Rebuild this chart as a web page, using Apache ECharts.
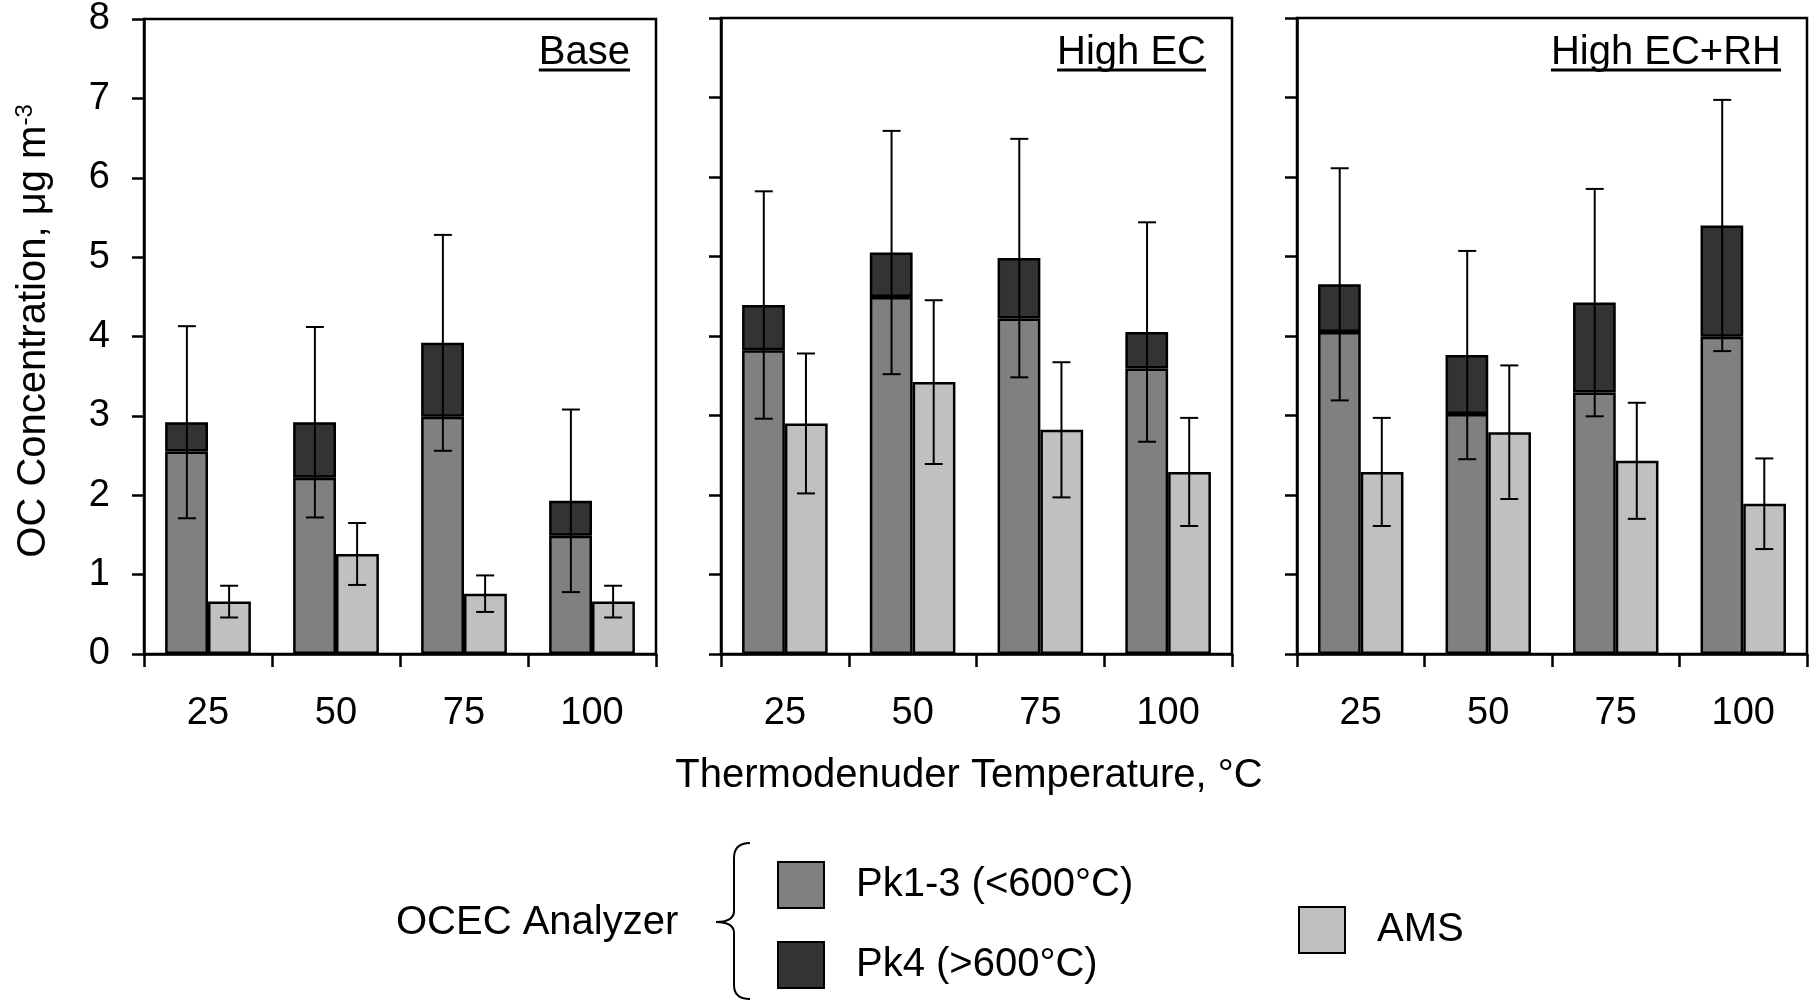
<!DOCTYPE html>
<html>
<head>
<meta charset="utf-8">
<script src="https://cdn.jsdelivr.net/npm/echarts@6/dist/echarts.min.js"></script>
<style>
html,body{margin:0;padding:0;background:#fff;}
#chart{width:1814px;height:1001px;}
</style>
</head>
<body>
<div id="chart"></div>
<script>
// ---------- data ----------
const categories = ['25', '50', '75', '100'];
const panelTitles = ['Base', 'High EC', 'High EC+RH'];
const xAxisTitle = 'Thermodenuder Temperature, °C';
const legendNames = ['Pk1-3 (<600°C)', 'Pk4 (>600°C)', 'AMS'];

// Base
const basePk13   = [2.55, 2.22, 2.99, 1.49];
const basePk4    = [0.37, 0.70, 0.93, 0.44];
const baseOcErr  = [1.21, 1.20, 1.36, 1.15];
const baseAms    = [0.66, 1.26, 0.76, 0.66];
const baseAmsErr = [0.20, 0.39, 0.23, 0.20];

// High EC
const highEcPk13   = [3.82, 4.49, 4.22, 3.59];
const highEcPk4    = [0.57, 0.56, 0.76, 0.46];
const highEcOcErr  = [1.43, 1.53, 1.50, 1.38];
const highEcAms    = [2.90, 3.42, 2.82, 2.29];
const highEcAmsErr = [0.88, 1.03, 0.85, 0.68];

// High EC+RH
const highEcRhPk13   = [4.05, 3.02, 3.29, 3.99];
const highEcRhPk4    = [0.60, 0.74, 1.13, 1.40];
const highEcRhOcErr  = [1.46, 1.31, 1.43, 1.58];
const highEcRhAms    = [2.29, 2.79, 2.43, 1.89];
const highEcRhAmsErr = [0.68, 0.84, 0.73, 0.57];

// ---------- layout / style ----------
const FONT = "'Liberation Sans', Arial, Helvetica, sans-serif";
const COL_PK13 = '#808080', COL_PK4 = '#333333', COL_AMS = '#c0c0c0';
const panels = [
  {pk13: basePk13, pk4: basePk4, ocErr: baseOcErr, ams: baseAms, amsErr: baseAmsErr},
  {pk13: highEcPk13, pk4: highEcPk4, ocErr: highEcOcErr, ams: highEcAms, amsErr: highEcAmsErr},
  {pk13: highEcRhPk13, pk4: highEcRhPk4, ocErr: highEcRhOcErr, ams: highEcRhAms, amsErr: highEcRhAmsErr}
];
const gridLefts = [144, 721, 1297];
const gridWidths = [512, 511, 510];
const gridTop = 18, gridHeight = 636;

const measureCtx = document.createElement('canvas').getContext('2d');
function textWidth(t, size) {
  measureCtx.font = size + 'px "Liberation Sans", Arial, sans-serif';
  return measureCtx.measureText(t).width;
}

function errRenderer(offsetFrac) {
  return function (params, api) {
    const i = api.value(0), c = api.value(1), e = api.value(2);
    const top = api.coord([i, c + e]);
    const bot = api.coord([i, c - e]);
    const band = api.size([1, 0])[0];
    const x = top[0] + offsetFrac * band;
    const hw = 9;
    const st = {stroke: '#000', lineWidth: 2};
    return {
      type: 'group',
      children: [
        {type: 'line', shape: {x1: x, y1: top[1], x2: x, y2: bot[1]}, style: st},
        {type: 'line', shape: {x1: x - hw, y1: top[1], x2: x + hw, y2: top[1]}, style: st},
        {type: 'line', shape: {x1: x - hw, y1: bot[1], x2: x + hw, y2: bot[1]}, style: st}
      ]
    };
  };
}

const grids = [], xAxes = [], yAxes = [], series = [], graphics = [];
panels.forEach((p, k) => {
  grids.push({
    left: gridLefts[k], top: gridTop, width: gridWidths[k], height: gridHeight,
    show: true, borderColor: '#000', borderWidth: 2.5, backgroundColor: 'transparent',
    containLabel: false
  });
  xAxes.push({
    type: 'category', gridIndex: k, data: categories,
    axisLine: {lineStyle: {color: '#000', width: 2.5}},
    axisTick: {show: true, length: 13, alignWithLabel: false, lineStyle: {color: '#000', width: 2.5}},
    axisLabel: {fontSize: 38, fontFamily: FONT, color: '#000', margin: 41},
    splitLine: {show: false}
  });
  yAxes.push({
    type: 'value', gridIndex: k, min: 0, max: 8, interval: 1,
    axisLine: {show: true, lineStyle: {color: '#000', width: 2.5}},
    axisTick: {show: true, length: 12, lineStyle: {color: '#000', width: 2.5}},
    axisLabel: {show: k === 0, fontSize: 38, fontFamily: FONT, color: '#000', margin: 34},
    splitLine: {show: false}
  });
  const barCommon = {
    type: 'bar', xAxisIndex: k, yAxisIndex: k, barCategoryGap: '33%', barGap: '0%'
  };
  series.push(Object.assign({}, barCommon, {
    name: legendNames[0], stack: 'oc' + k, data: p.pk13,
    itemStyle: {color: COL_PK13, borderColor: '#000', borderWidth: 2.5}
  }));
  series.push(Object.assign({}, barCommon, {
    name: legendNames[1], stack: 'oc' + k, data: p.pk4,
    itemStyle: {color: COL_PK4, borderColor: '#000', borderWidth: 2.5}
  }));
  series.push(Object.assign({}, barCommon, {
    name: legendNames[2], data: p.ams,
    itemStyle: {color: COL_AMS, borderColor: '#000', borderWidth: 2.5}
  }));
  series.push({
    type: 'custom', xAxisIndex: k, yAxisIndex: k, z: 5,
    renderItem: errRenderer(-0.165),
    encode: {x: 0, y: 1},
    data: categories.map((c, i) => [i, p.pk13[i] + p.pk4[i], p.ocErr[i]])
  });
  series.push({
    type: 'custom', xAxisIndex: k, yAxisIndex: k, z: 5,
    renderItem: errRenderer(0.165),
    encode: {x: 0, y: 1},
    data: categories.map((c, i) => [i, p.ams[i], p.amsErr[i]])
  });

  // panel title (underlined)
  const rx = gridLefts[k] + gridWidths[k] - 26;
  const w = textWidth(panelTitles[k], 40);
  graphics.push({
    type: 'text', x: rx, y: 53, z: 10,
    style: {text: panelTitles[k], fontSize: 40, fontFamily: FONT, fill: '#000',
            align: 'right', textAlign: 'right', verticalAlign: 'middle', textVerticalAlign: 'middle'}
  });
  graphics.push({
    type: 'line', z: 10,
    shape: {x1: rx - w, y1: 70, x2: rx, y2: 70},
    style: {stroke: '#000', lineWidth: 3}
  });
});

// y axis title (rotated, with superscript)
graphics.push({
  type: 'text', x: 34, y: 331, rotation: Math.PI / 2,
  style: {
    text: '{a|OC Concentration, μg m}{b|-3}',
    align: 'center', textAlign: 'center', verticalAlign: 'middle', textVerticalAlign: 'middle',
    rich: {
      a: {fontSize: 40, fontFamily: FONT, fill: '#000', color: '#000', lineHeight: 42},
      b: {fontSize: 24, fontFamily: FONT, fill: '#000', color: '#000', verticalAlign: 'top'}
    }
  }
});
// x axis title
graphics.push({
  type: 'text', x: 969, y: 776,
  style: {text: xAxisTitle, fontSize: 40, fontFamily: FONT, fill: '#000',
          align: 'center', textAlign: 'center', verticalAlign: 'middle', textVerticalAlign: 'middle'}
});
// legend group label and brace
graphics.push({
  type: 'text', x: 396, y: 923,
  style: {text: 'OCEC Analyzer', fontSize: 40, fontFamily: FONT, fill: '#000',
          align: 'left', textAlign: 'left', verticalAlign: 'middle', textVerticalAlign: 'middle'}
});
const braceStyle = {stroke: '#000', lineWidth: 2, fill: null};
graphics.push({type: 'bezierCurve', shape: {x1: 750, y1: 843, cpx1: 734, cpy1: 843, x2: 734, y2: 858}, style: braceStyle});
graphics.push({type: 'line', shape: {x1: 734, y1: 858, x2: 734, y2: 911}, style: braceStyle});
graphics.push({type: 'bezierCurve', shape: {x1: 734, y1: 911, cpx1: 734, cpy1: 922, x2: 716, y2: 922}, style: braceStyle});
graphics.push({type: 'bezierCurve', shape: {x1: 716, y1: 922, cpx1: 734, cpy1: 922, x2: 734, y2: 933}, style: braceStyle});
graphics.push({type: 'line', shape: {x1: 734, y1: 933, x2: 734, y2: 985}, style: braceStyle});
graphics.push({type: 'bezierCurve', shape: {x1: 734, y1: 985, cpx1: 734, cpy1: 999, x2: 750, y2: 999}, style: braceStyle});

function legendBox(name, left, top) {
  return {
    show: true, left: left, top: top, orient: 'vertical', selectedMode: false,
    data: [name], icon: 'rect', itemWidth: 46, itemHeight: 46, itemGap: 0,
    itemStyle: {borderColor: '#000', borderWidth: 2},
    textStyle: {fontSize: 40, fontFamily: FONT, color: '#000', padding: [4, 0, 0, 27]},
    padding: 0
  };
}

const option = {
  animation: false,
  backgroundColor: '#fff',
  grid: grids,
  xAxis: xAxes,
  yAxis: yAxes,
  series: series,
  legend: [
    legendBox(legendNames[0], 777, 861),
    legendBox(legendNames[1], 777, 941),
    legendBox(legendNames[2], 1298, 906)
  ],
  graphic: graphics
};

const chart = echarts.init(document.getElementById('chart'), null, {renderer: 'canvas'});
chart.setOption(option);
</script>
</body>
</html>
